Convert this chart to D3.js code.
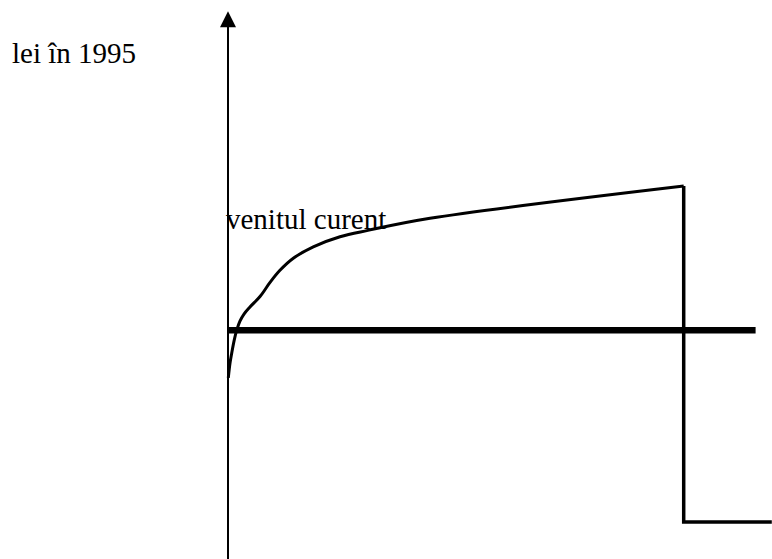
<!DOCTYPE html>
<html>
<head>
<meta charset="utf-8">
<script src="https://cdn.jsdelivr.net/npm/d3@7"></script>
<style>
  html, body { margin: 0; padding: 0; background: #fff; }
  svg { display: block; }
</style>
</head>
<body>
<svg id="chart" width="772" height="559"></svg>
<script>
// ---- data ----
const ages   = [20.03, 20.2, 20.37, 20.62, 20.86, 21.18, 21.58, 22.17, 23.16, 24.15, 25.13, 26.45, 28.42, 31.06, 33.82, 39.95, 65.0];
const income = [42.9, 47.3, 50.3, 54.2, 57.1, 59.8, 61.9, 64.0, 67.1, 71.3, 74.9, 78.5, 81.9, 84.9, 86.8, 90.4, 100];
const retirementAge = [65.0];
const pensionAges = [65.0, 73.7];
const pensionIncome = [0];
const consumptionAges = [20, 72.1];
const consumption = [57.1];
const axisRange = [-11, 152];
const labels = ["lei în 1995", "venitul curent"];

// ---- scales ----
const svg = d3.select("#chart");
const x = d3.scaleLinear().domain([20, 65]).range([228, 683.7]);
const y = d3.scaleLinear().domain([0, 100]).range([522, 186]);
const FONT = "'Liberation Serif', 'Times New Roman', Times, serif";

// vertical axis with arrow
svg.append("line")
  .attr("x1", x(20)).attr("x2", x(20))
  .attr("y1", y(axisRange[0])).attr("y2", y(axisRange[1]) + 14)
  .attr("stroke", "#000").attr("stroke-width", 2);
const tipY = y(axisRange[1]);
svg.append("path")
  .attr("d", `M${x(20)},${tipY} L${x(20) - 8},${tipY + 16} L${x(20) + 8},${tipY + 16} Z`)
  .attr("fill", "#000");

// consumption (thick line)
svg.append("line")
  .attr("x1", x(consumptionAges[0])).attr("x2", x(consumptionAges[1]))
  .attr("y1", y(consumption[0])).attr("y2", y(consumption[0]))
  .attr("stroke", "#000").attr("stroke-width", 6.5);

// income curve
const pts = ages.map((a, i) => [a, income[i]]);
const line = d3.line().x(d => x(d[0])).y(d => y(d[1])).curve(d3.curveCatmullRom.alpha(0.5));
svg.append("path")
  .datum(pts)
  .attr("d", line)
  .attr("fill", "none").attr("stroke", "#000").attr("stroke-width", 3)
  .attr("stroke-linecap", "butt");

// retirement drop and pension
const step = [[retirementAge[0], income[income.length - 1]], [pensionAges[0], pensionIncome[0]], [pensionAges[1], pensionIncome[0]]];
svg.append("path")
  .datum(step)
  .attr("d", d3.line().x(d => x(d[0])).y(d => y(d[1])))
  .attr("fill", "none").attr("stroke", "#000").attr("stroke-width", 3.5)
  .attr("stroke-linejoin", "miter");

// labels
svg.append("text").attr("x", 12).attr("y", 63)
  .attr("font-family", FONT).attr("font-size", 29).attr("fill", "#000").text(labels[0]);
svg.append("text").attr("x", 226).attr("y", 229)
  .attr("font-family", FONT).attr("font-size", 29).attr("fill", "#000").text(labels[1]);
</script>
</body>
</html>
